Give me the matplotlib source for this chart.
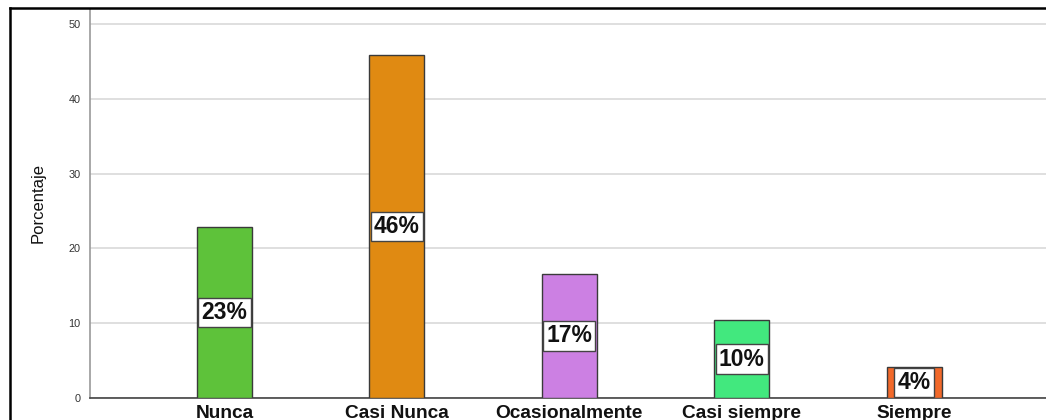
import matplotlib
matplotlib.use("Agg")
import matplotlib.pyplot as plt
from matplotlib.lines import Line2D
from matplotlib import font_manager

categories = ["Nunca", "Casi Nunca", "Ocasionalmente", "Casi siempre", "Siempre"]
values = [22.9, 45.8, 16.6, 10.4, 4.1]
labels = ["23%", "46%", "17%", "10%", "4%"]
colors = ["#5ec23a", "#e08a12", "#cc80e3", "#42e87e", "#f2692a"]
yticks = [0, 10, 20, 30, 40, 50]

names = {f.name for f in font_manager.fontManager.ttflist}
narrow = "Liberation Sans Narrow" if "Liberation Sans Narrow" in names else "Liberation Sans"

plt.rcParams['font.family'] = ['Liberation Sans', 'DejaVu Sans']

W, H = 1046, 420
fig = plt.figure(figsize=(W / 100, H / 100), dpi=100)
ax = fig.add_axes([90 / W, 1 - 398 / H, 1 - 90 / W, (398 - 9) / H])

x = list(range(len(categories)))
ax.bar(x, values, width=0.32, color=colors, edgecolor="#3a3a3a", linewidth=1.0, zorder=3)

for xi, v, lab in zip(x, values, labels):
    ax.text(xi, v / 2, lab, ha="center", va="center", fontsize=16.5, fontweight="bold",
            color="#111111", zorder=5,
            bbox=dict(boxstyle="square,pad=0.14", facecolor="white", edgecolor="#444444", linewidth=1.0))

ax.set_xlim(-0.780, 4.765)
ax.set_ylim(0, 52)
ax.set_yticks(yticks)
ax.set_yticklabels([str(t) for t in yticks], fontsize=7.8, color="#333333")
ax.set_xticks(x)
ax.set_xticklabels(categories, fontsize=13.8, fontweight="bold", color="#111111")
ax.tick_params(axis="both", length=0)
ax.tick_params(axis="y", pad=7)
ax.tick_params(axis="x", pad=5)

ax.grid(axis="y", color="#d9d9d9", linewidth=1.2, zorder=0)
ax.set_axisbelow(True)
for s in ["top", "right"]:
    ax.spines[s].set_visible(False)
ax.spines["left"].set_color("#9a9a9a")
ax.spines["left"].set_linewidth(1.2)
ax.spines["bottom"].set_color("#444444")
ax.spines["bottom"].set_linewidth(1.2)

ax.set_ylabel("Porcentaje", fontsize=12, family=[narrow, 'DejaVu Sans'], color="#111111", labelpad=16)

# outer frame
fig.add_artist(Line2D([9.5 / W, 9.5 / W], [1 - 7.5 / H, -0.05], transform=fig.transFigure,
                      color="black", linewidth=1.8, clip_on=False))
fig.add_artist(Line2D([9.5 / W, 1.05], [1 - 7.5 / H, 1 - 7.5 / H], transform=fig.transFigure,
                      color="black", linewidth=1.8, clip_on=False))

fig.savefig("out.png", dpi=100, facecolor="white")
